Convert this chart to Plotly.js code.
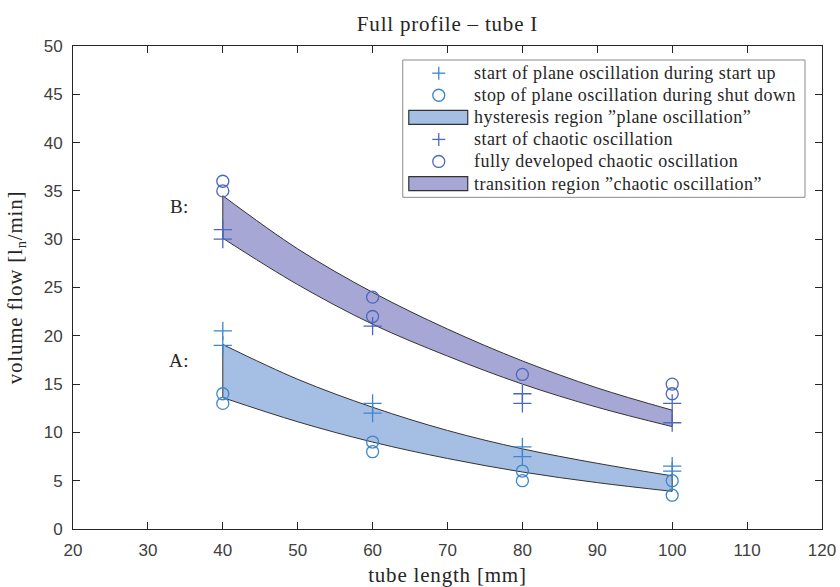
<!DOCTYPE html>
<html>
<head>
<meta charset="utf-8">
<script src="https://cdn.plot.ly/plotly-3.0.1.min.js"></script>
<style>
html,body{margin:0;padding:0;background:#fff;}
#chart{width:840px;height:587px;}
.gtitle{letter-spacing:0.8px;}
.xtitle, .ytitle{letter-spacing:0.8px;}
.annotation-text{letter-spacing:0.45px;}
</style>
</head>
<body>
<div id="chart"></div>
<script>
// ---- data ----
var seriesNames = [
  'start of plane oscillation during start up',
  'stop of plane oscillation during shut down',
  'hysteresis region "plane oscillation"',
  'start of chaotic oscillation',
  'fully developed chaotic oscillation',
  'transition region "chaotic oscillation"'
];
// measured points
var planeStartX = [40, 40, 60, 60, 80, 80, 100, 100];
var planeStartY = [20.5, 19, 13, 12, 8.5, 7.5, 6.5, 6];
var planeStopX  = [40, 40, 60, 60, 80, 80, 100, 100];
var planeStopY  = [14, 13, 9, 8, 6, 5, 5, 3.5];
var chaoticStartX = [40, 40, 60, 80, 80, 100, 100];
var chaoticStartY = [31, 30, 21, 14, 13, 13, 11];
var chaoticFullX  = [40, 40, 60, 60, 80, 100, 100];
var chaoticFullY  = [36, 35, 24, 22, 16, 15, 14];
// band boundaries (fit curves)
var bandX = [40, 50, 60, 70, 80, 90, 100];
var planeBandTop    = [19.1, 15.5, 12.6, 10.2, 8.3, 6.8, 5.5];
var planeBandBottom = [13.6, 11.1, 9.0, 7.3, 5.9, 4.8, 3.9];
var chaoticBandTop    = [34.5, 29.0, 24.5, 20.7, 17.4, 14.6, 12.3];
var chaoticBandBottom = [30.1, 25.3, 21.2, 17.9, 15.0, 12.6, 10.6];
// region labels
var regionLabels = ['A:', 'B:'];
var regionLabelX = [34.2, 34.2];
var regionLabelY = [17.4, 33.4];
// tick values
var xTicks = [20, 30, 40, 50, 60, 70, 80, 90, 100, 110, 120];
var yTicks = [0, 5, 10, 15, 20, 25, 30, 35, 40, 45, 50];

// ---- styles ----
var cPlaneMk = '#3b86cc';
var cChaosMk = '#4a68bd';
var cPlaneFill = '#a5bfe4';
var cChaosFill = '#a7a7d6';
var cEdge = '#333333';
var serif = 'Liberation Serif, Times New Roman, serif';
var sans = 'Liberation Sans, Arial, sans-serif';

function band(xs, top, bot, fill) {
  var last = xs.length - 1;
  return [
    {x: xs, y: bot, mode: 'lines', line: {color: cEdge, width: 1, shape: 'spline'}, showlegend: false, hoverinfo: 'skip'},
    {x: xs, y: top, mode: 'lines', fill: 'tonexty', fillcolor: fill, line: {color: cEdge, width: 1, shape: 'spline'}, showlegend: false, hoverinfo: 'skip'},
    {x: [xs[0], xs[0], null, xs[last], xs[last]], y: [bot[0], top[0], null, bot[last], top[last]], mode: 'lines', line: {color: cEdge, width: 1}, showlegend: false, hoverinfo: 'skip'}
  ];
}

function markerTrace(xs, ys, name, symbol, size, color) {
  return {x: xs, y: ys, mode: 'markers', name: name, showlegend: false,
    marker: {symbol: symbol, size: size, color: color, line: {color: color, width: 1.3}}};
}

var traces = [].concat(
  band(bandX, planeBandTop, planeBandBottom, cPlaneFill),
  band(bandX, chaoticBandTop, chaoticBandBottom, cChaosFill),
  [
    markerTrace(planeStartX, planeStartY, seriesNames[0], 'cross-thin-open', 13, cPlaneMk),
    markerTrace(planeStopX, planeStopY, seriesNames[1], 'circle-open', 12, cPlaneMk),
    markerTrace(chaoticStartX, chaoticStartY, seriesNames[3], 'cross-thin-open', 13, cChaosMk),
    markerTrace(chaoticFullX, chaoticFullY, seriesNames[4], 'circle-open', 12, cChaosMk)
  ]
);

// ---- custom legend (MATLAB style) built from seriesNames ----
var L = 72.5, R = 822, T = 45.5, B = 529;
function px(x) { return (x - L) / (R - L); }
function py(y) { return (B - y) / (B - T); }
var shapes = [];
var annotations = [];
shapes.push({type: 'rect', xref: 'paper', yref: 'paper', x0: px(402.5), x1: px(805), y0: py(59.5), y1: py(197), line: {color: '#8a8a8a', width: 1}, fillcolor: '#ffffff', layer: 'above'});
var kinds = ['plus', 'circle', 'rect', 'plus', 'circle', 'rect'];
var kColors = [cPlaneMk, cPlaneMk, cPlaneFill, cChaosMk, cChaosMk, cChaosFill];
for (var i = 0; i < seriesNames.length; i++) {
  var ry = 72.7 + i * 22.1;
  var gx = 438.5;
  if (kinds[i] === 'plus') {
    shapes.push({type: 'line', xref: 'paper', yref: 'paper', x0: px(gx - 6.5), x1: px(gx + 6.5), y0: py(ry), y1: py(ry), line: {color: kColors[i], width: 1.3}, layer: 'above'});
    shapes.push({type: 'line', xref: 'paper', yref: 'paper', x0: px(gx), x1: px(gx), y0: py(ry - 6.5), y1: py(ry + 6.5), line: {color: kColors[i], width: 1.3}, layer: 'above'});
  } else if (kinds[i] === 'circle') {
    shapes.push({type: 'circle', xref: 'paper', yref: 'paper', x0: px(gx - 6), x1: px(gx + 6), y0: py(ry - 6), y1: py(ry + 6), line: {color: kColors[i], width: 1.3}, layer: 'above'});
  } else {
    shapes.push({type: 'rect', xref: 'paper', yref: 'paper', x0: px(408.5), x1: px(467.5), y0: py(ry - 7), y1: py(ry + 7), fillcolor: kColors[i], line: {color: cEdge, width: 1.2}, layer: 'above'});
  }
  annotations.push({xref: 'paper', yref: 'paper', x: px(472), y: py(ry), xanchor: 'left', yanchor: 'middle', showarrow: false, text: seriesNames[i].replace(/"([^"]*)"/, '\u201d$1\u201d'), font: {family: serif, size: 18, color: '#262626'}});
}
for (var j = 0; j < regionLabels.length; j++) {
  annotations.push({x: regionLabelX[j], y: regionLabelY[j], xref: 'x', yref: 'y', text: regionLabels[j], showarrow: false, font: {family: serif, size: 19, color: '#262626'}});
}

var layout = {
  width: 840, height: 587,
  margin: {l: 72.5, r: 18, t: 45.5, b: 58, pad: 0},
  paper_bgcolor: '#ffffff', plot_bgcolor: '#ffffff',
  showlegend: false,
  title: {text: 'Full profile \u2013 tube I', font: {family: serif, size: 21, color: '#262626'}, x: 0.5, xref: 'paper', xanchor: 'center', y: 1 - 24 / 587, yref: 'container', yanchor: 'middle'},
  xaxis: {
    range: [20, 120], tickvals: xTicks, ticktext: xTicks.map(String), ticks: 'inside', ticklen: 7, tickwidth: 1, tickcolor: '#262626',
    showline: true, mirror: 'ticks', linecolor: '#262626', linewidth: 1, showgrid: false, zeroline: false,
    tickfont: {family: sans, size: 17, color: '#404040'}, ticklabelstandoff: 6,
    title: {text: 'tube length [mm]', font: {family: serif, size: 21, color: '#262626'}, standoff: 8}
  },
  yaxis: {
    range: [0, 50], tickvals: yTicks, ticktext: yTicks.map(String), ticks: 'inside', ticklen: 7, tickwidth: 1, tickcolor: '#262626',
    showline: true, mirror: 'ticks', linecolor: '#262626', linewidth: 1, showgrid: false, zeroline: false,
    tickfont: {family: sans, size: 17, color: '#404040'}, ticklabelstandoff: 6,
    title: {text: 'volume flow [l<sub>n</sub>/min]', font: {family: serif, size: 21, color: '#262626'}, standoff: 15}
  },
  shapes: shapes,
  annotations: annotations
};

Plotly.newPlot('chart', traces, layout, {displayModeBar: false, staticPlot: true});
</script>
</body>
</html>
